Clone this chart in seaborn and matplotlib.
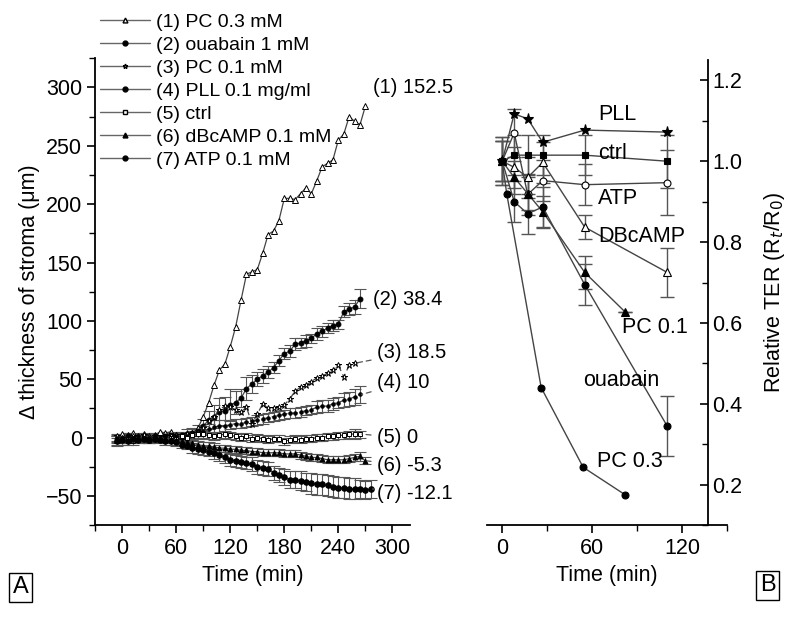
import matplotlib
matplotlib.use("Agg")
import matplotlib.pyplot as plt
from matplotlib.ticker import MultipleLocator
import numpy as np
import seaborn as sns

# ---- panel A: stroma thickness, sampled every 6 min ----
time_a = np.arange(-6, 277, 6)

pc03 = [-2, 3, 2, 4, 1, 3, 1, 2, 5, 4, 5, 2, 1, 3, 4, 8,
        18, 30, 45, 58, 63, 78, 95, 118, 140, 142, 144, 158, 174, 177, 186,
        205, 205, 204, 209, 214, 209, 220, 232, 235, 238, 255, 260, 275, 271, 268, 284]
ouabain = [-1, 0, 1, 0, -1, 1, 0, 1, 0, 1, 2, 1, 2, 3, 4, 6,
           10, 15, 18, 22, 23, 28, 30, 34, 42, 46, 50, 53, 56, 60, 66,
           72, 74, 80, 81, 83, 85, 89, 91, 94, 96, 97, 108, 110, 112, 119]
ouabain_err = [3, 3, 3, 3, 3, 3, 3, 3, 3, 3, 3, 3, 3, 4, 4, 5,
               6, 8, 10, 12, 12, 14, 10, 8, 10, 8, 6, 6, 5, 5, 5,
               5, 5, 5, 4, 5, 4, 5, 5, 4, 5, 4, 5, 5, 6, 8]
pc01 = [1, 0, -1, 1, 0, 2, 0, 1, -1, 0, 1, 2, 1, 3, 2, 4,
        8, 14, 18, 24, 27, 26, 24, 22, 26, 12, 20, 29, 25, 25, 26,
        28, 33, 40, 43, 45, 48, 51, 53, 55, 58, 62, 52, 62, 64]
pll = [0, -1, 1, 0, 1, 0, -1, 1, 0, 1, 0, 1, 2, 1, 2, 3,
       5, 7, 9, 10, 10, 11, 12, 12, 13, 14, 15, 16, 17, 18, 19,
       20, 21, 21, 22, 23, 24, 26, 27, 27, 29, 30, 32, 33, 35, 37]
pll_err = [3, 3, 3, 3, 3, 3, 3, 3, 3, 3, 3, 3, 3, 3, 4, 4,
           5, 5, 6, 5, 5, 4, 4, 4, 4, 4, 4, 4, 4, 4, 4,
           4, 4, 4, 4, 4, 4, 5, 5, 5, 5, 5, 6, 6, 7, 7]
ctrl = [-3, -2, -1, -3, -2, -1, -2, 0, -1, -2, 0, -1, 1, 0, 2, 3,
        3, 2, 1, 2, 3, 2, 1, 0, 1, -1, 0, -1, -2, -1, -1,
        -3, -2, -1, -2, -1, -1, 0, 0, 1, 1, 2, 2, 3, 3, 3]
ctrl_err = [4, 4, 3, 3, 3, 3, 3, 3, 3, 3, 3, 3, 3, 3, 3, 3,
            3, 3, 3, 3, 3, 3, 3, 3, 3, 3, 3, 3, 3, 3, 3,
            3, 3, 3, 3, 3, 3, 3, 3, 3, 3, 3, 3, 3, 4, 3]
dbcamp = [-2, -1, -2, -1, 0, -1, -2, -1, 0, -1, -1, -2, -3, -4, -5, -6,
          -7, -7, -8, -9, -9, -10, -10, -11, -11, -12, -12, -13, -13, -13, -13,
          -14, -14, -14, -15, -16, -17, -17, -18, -19, -19, -19, -19, -18, -17, -16, -20]
dbcamp_err = [3, 3, 3, 3, 3, 3, 3, 3, 3, 3, 3, 3, 3, 3, 3, 3,
              3, 3, 3, 3, 3, 3, 3, 3, 3, 3, 3, 3, 3, 3, 3,
              3, 3, 3, 3, 3, 3, 3, 3, 3, 3, 3, 3, 3, 3, 4, 3]
atp = [-3, -2, -3, -1, -2, -1, -2, -1, -2, -3, -3, -4, -6, -7, -9, -10,
       -11, -12, -13, -15, -17, -19, -20, -21, -22, -23, -25, -26, -27, -30, -32,
       -34, -36, -36, -37, -38, -39, -40, -40, -41, -42, -43, -43, -44, -44, -44, -45, -44]
atp_err = [3, 3, 3, 3, 3, 3, 3, 3, 3, 3, 3, 3, 3, 3, 4, 4,
           4, 4, 5, 5, 5, 5, 5, 5, 5, 6, 6, 6, 6, 6, 6,
           7, 7, 7, 8, 8, 9, 9, 9, 9, 9, 9, 9, 9, 9, 8, 8, 8]

legend_a = ["(1) PC 0.3 mM", "(2) ouabain 1 mM", "(3) PC 0.1 mM",
            "(4) PLL 0.1 mg/ml", "(5) ctrl", "(6) dBcAMP 0.1 mM", "(7) ATP 0.1 mM"]
end_labels_a = ["(1) 152.5", "(2) 38.4", "(3) 18.5", "(4) 10", "(5) 0", "(6) -5.3", "(7) -12.1"]
end_label_y = [300, 118, 73, 47, 0, -24, -48]

# ---- panel B: relative TER ----
time_b = [0, 8, 17, 27, 55, 110]
ter_pll = [1.0, 1.117, 1.105, 1.047, 1.077, 1.072]
ter_ctrl = [1.0, 1.015, 1.015, 1.015, 1.015, 1.0]
ter_ctrl_err = [0.06, 0.05, 0.05, 0.05, 0.05, 0.065]
ter_atp = [1.0, 1.07, 0.918, 0.952, 0.942, 0.947]
ter_atp_err = [0.06, 0.06, 0.05, 0.05, 0.05, 0.08]
ter_dbcamp = [1.0, 0.985, 0.96, 0.997, 0.837, 0.725]
ter_dbcamp_err = [0.05, 0.05, 0.05, 0.05, 0.03, 0.06]
ter_ouabain = [1.0, 0.9, 0.87, 0.887, 0.695, 0.345]
ter_ouabain_err = [0.05, 0.05, 0.05, 0.05, 0.05, 0.075]
time_b_pc01 = [0, 8, 17, 27, 55, 82]
ter_pc01 = [1.0, 0.96, 0.92, 0.875, 0.725, 0.627]
ter_pc01_err = [0.05, 0.04, 0.04, 0.04, 0.04, 0.0]
time_b_pc03 = [0, 3, 26, 54, 82]
ter_pc03 = [1.0, 0.92, 0.44, 0.243, 0.175]

labels_b = ["PLL", "ctrl", "ATP", "DBcAMP", "PC 0.1", "ouabain", "PC 0.3"]
labels_b_x = [64, 64, 64, 64, 80, 54, 63]
labels_b_y = [1.115, 1.02, 0.908, 0.815, 0.59, 0.458, 0.257]

sns.set_theme(style="ticks")
plt.rcParams["font.family"] = ["Liberation Sans", "DejaVu Sans"]
plt.rcParams.update({
    "axes.linewidth": 1.3,
    "text.color": "black",
    "axes.labelcolor": "black",
    "axes.edgecolor": "black",
    "xtick.color": "black",
    "ytick.color": "black",
})

line_c = "#444444"
fig = plt.figure(figsize=(8, 6.2), dpi=100)
ax = fig.add_axes([0.119, 0.153, 0.394, 0.753])
bx = fig.add_axes([0.609, 0.153, 0.300, 0.750])

# panel A series: (values, err, marker, filled, dashed)
series_a = [
    (pc03, None, "^", False, "-"),
    (ouabain, ouabain_err, "o", True, "-"),
    (pc01, None, "*", False, (0, (5, 3))),
    (pll, pll_err, "o", True, (0, (5, 3))),
    (ctrl, ctrl_err, "s", False, "-"),
    (dbcamp, dbcamp_err, "^", True, "-"),
    (atp, atp_err, "o", True, "-"),
]
sizes = [4, 3.5, 5, 2.5, 3, 3.5, 4]
handles = []
for (vals, err, mk, filled, ls), ms, lab in zip(series_a, sizes, legend_a):
    t = time_a[:len(vals)]
    if err is not None:
        ax.errorbar(t, vals, yerr=err, fmt="none", ecolor="#555555",
                    elinewidth=0.8, capsize=4, capthick=0.8, zorder=2)
    sns.lineplot(x=t, y=vals, ax=ax, color=line_c, linewidth=0.9, linestyle=ls,
                 marker=mk, markersize=ms, markeredgecolor="black",
                 markerfacecolor="black" if filled else "white",
                 markeredgewidth=0.7, zorder=3, label=lab, legend=False)
    h, = ax.plot([], [], color="#666666", linewidth=1.0, marker=mk, markersize=3.5,
                 markerfacecolor="black" if filled else "white", markeredgecolor="black")
    handles.append(h)

# end labels with short leader lines
for (vals, *_), lab, ly, i in zip(series_a, end_labels_a, end_label_y, range(7)):
    t_end = time_a[len(vals) - 1]
    if i < 2:
        ax.text(279, ly, lab, fontsize=14.5, va="center", ha="left")
    else:
        ax.annotate(lab, xy=(t_end + 2, vals[-1]), xytext=(283, ly),
                    fontsize=14.5, va="center", ha="left",
                    arrowprops=dict(arrowstyle="-", color="#555555", lw=0.9,
                                    linestyle=(0, (4, 3)), shrinkA=2, shrinkB=0))

ax.set_ylim(-75, 325)
ax.set_xticks(range(0, 301, 60))
ax.xaxis.set_minor_locator(MultipleLocator(30))
ax.yaxis.set_major_locator(MultipleLocator(50))
ax.yaxis.set_minor_locator(MultipleLocator(25))
ax.set_xlim(-30, 320)
ax.spines["top"].set_visible(False)
ax.spines["right"].set_visible(False)
ax.tick_params(which="major", direction="out", length=6, width=1.2, labelsize=15.5)
ax.tick_params(which="minor", direction="out", length=4, width=1.0)
ax.set_xlabel("Time (min)", fontsize=15.5)
ax.set_ylabel("\u0394 thickness of stroma (\u03bcm)", fontsize=15.5)
ax.patch.set_alpha(0)

fig.legend(handles, legend_a, loc="upper left", bbox_to_anchor=(0.11, 0.998),
           frameon=False, fontsize=14, handlelength=2.6, handletextpad=0.3,
           labelspacing=0.28, borderaxespad=0.2)

# panel B
series_b = [
    (time_b, ter_pll, None, "*", True, 8),
    (time_b, ter_ctrl, ter_ctrl_err, "s", True, 4),
    (time_b, ter_atp, ter_atp_err, "o", False, 5),
    (time_b, ter_dbcamp, ter_dbcamp_err, "^", False, 5.5),
    (time_b_pc01, ter_pc01, ter_pc01_err, "^", True, 5.5),
    (time_b, ter_ouabain, ter_ouabain_err, "o", True, 5),
    (time_b_pc03, ter_pc03, None, "o", True, 5),
]
for t, vals, err, mk, filled, ms in series_b:
    if err is not None:
        bx.errorbar(t, vals, yerr=err, fmt="none", ecolor="#555555",
                    elinewidth=1.0, capsize=5, capthick=1.0, zorder=2)
    sns.lineplot(x=t, y=vals, ax=bx, color=line_c, linewidth=1.0, marker=mk,
                 markersize=ms, markeredgecolor="black",
                 markerfacecolor="black" if filled else "white",
                 markeredgewidth=0.8, zorder=3, legend=False)

for lab, lx, ly in zip(labels_b, labels_b_x, labels_b_y):
    bx.text(lx, ly, lab, fontsize=15.5, va="center", ha="left")

bx.set_xlim(-10, 150)
bx.set_ylim(0.1, 1.25)
bx.spines["top"].set_visible(False)
bx.spines["left"].set_visible(False)
bx.spines["right"].set_position(("data", 137))
bx.yaxis.tick_right()
bx.yaxis.set_label_position("right")
bx.set_xticks([0, 60, 120])
bx.xaxis.set_minor_locator(MultipleLocator(30))
bx.set_yticks([0.2, 0.4, 0.6, 0.8, 1.0, 1.2])
bx.yaxis.set_minor_locator(MultipleLocator(0.1))
bx.tick_params(axis="x", which="major", direction="out", length=6, width=1.2, labelsize=15.5)
bx.tick_params(axis="x", which="minor", direction="out", length=4, width=1.0)
bx.tick_params(axis="y", which="major", direction="in", length=6, width=1.2, labelsize=15.5)
bx.tick_params(axis="y", which="minor", direction="in", length=4, width=1.0)
bx.set_xlabel("Time (min)", fontsize=15.5)
bx.set_ylabel("Relative TER (R$_t$/R$_0$)", fontsize=15.5, labelpad=14)
bx.patch.set_alpha(0)

box = dict(boxstyle="square,pad=0.15", facecolor="white", edgecolor="black", linewidth=1.0)
fig.text(0.016, 0.043, "A", fontsize=17, bbox=box)
fig.text(0.950, 0.046, "B", fontsize=17, bbox=box)

fig.savefig("out.png", dpi=100)
